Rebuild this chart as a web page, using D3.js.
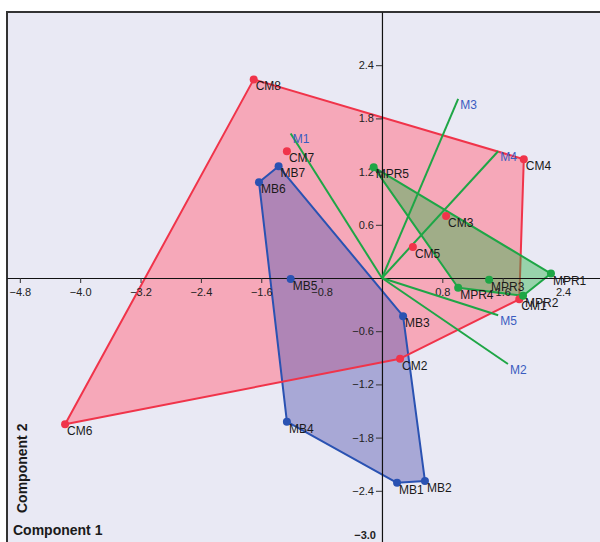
<!DOCTYPE html>
<html><head><meta charset="utf-8">
<script src="https://cdn.jsdelivr.net/npm/d3@7"></script>
<style>
html,body{margin:0;padding:0;background:#fff;}
svg{display:block;font-family:"Liberation Sans",Arial,sans-serif;}
</style></head>
<body>
<svg id="c" width="600" height="542"></svg>
<script>
// ---- data ----
const cmNames = ["CM1","CM2","CM3","CM4","CM5","CM6","CM7","CM8"];
const cmX = [1.82, 0.24, 0.85, 1.88, 0.41, -4.20, -1.26, -1.70];
const cmY = [-0.24, -0.91, 0.70, 1.34, 0.35, -1.65, 1.43, 2.24];

const mbNames = ["MB1","MB2","MB3","MB4","MB5","MB6","MB7"];
const mbX = [0.20, 0.57, 0.28, -1.26, -1.21, -1.63, -1.37];
const mbY = [-2.31, -2.29, -0.43, -1.62, -0.01, 1.08, 1.26];

const mprNames = ["MPR1","MPR2","MPR3","MPR4","MPR5"];
const mprX = [2.24, 1.87, 1.42, 1.01, -0.11];
const mprY = [0.05, -0.20, -0.02, -0.11, 1.25];

const loadNames = ["M1","M2","M3","M4","M5"];
const loadX = [-1.21, 1.67, 1.01, 1.54, 1.54];
const loadY = [1.63, -0.97, 2.02, 1.43, -0.42];

const xTicks = [-4.8,-4.0,-3.2,-2.4,-1.6,-0.8,0.8,1.6,2.4];
const yTicks = [2.4,1.8,1.2,0.6,-0.6,-1.2,-1.8,-2.4,-3.0];

const xTitle = "Component 1";
const yTitle = "Component 2";

// ---- drawing ----
const svg = d3.select("#c");
const W = 600, H = 542, L = 7, T = 12;
const x = d3.scaleLinear().domain([-4.97, 2.89]).range([L, W]);
const y = d3.scaleLinear().domain([-3, 3]).range([544, T]);

svg.append("rect").attr("x", L).attr("y", T).attr("width", W - L).attr("height", H - T)
  .attr("fill", "#e9e9f4");
svg.append("path").attr("d", `M${L},${H}V${T}H${W}`).attr("fill", "none")
  .attr("stroke", "#333").attr("stroke-width", 2);

const cm = {names: cmNames, xs: cmX, ys: cmY, stroke: "#f0344a", fill: "rgb(255,123,142)", op: 0.59};
const mb = {names: mbNames, xs: mbX, ys: mbY, stroke: "#2a52b2", fill: "rgb(92,92,179)", op: 0.46};
const mpr = {names: mprNames, xs: mprX, ys: mprY, stroke: "#1ea646", fill: "rgb(40,182,70)", op: 0.42};
const groups = [cm, mb, mpr];

function hullPath(g) {
  const pts = g.xs.map((v, i) => [x(v), y(g.ys[i])]);
  return "M" + d3.polygonHull(pts).join("L") + "Z";
}
const plot = svg.append("g");
function fillOf(g) {
  plot.append("path").attr("d", hullPath(g)).attr("fill", g.fill).attr("fill-opacity", g.op);
}
function strokeOf(g) {
  plot.append("path").attr("d", hullPath(g)).attr("fill", "none")
    .attr("stroke", g.stroke).attr("stroke-width", 2).attr("stroke-linejoin", "round");
}
fillOf(cm); fillOf(mb); strokeOf(mb); strokeOf(cm); fillOf(mpr); strokeOf(mpr);

// axes
const xAxis = d3.axisBottom(x).tickValues(xTicks).tickFormat(d3.format(".1f"))
  .tickSize(5).tickSizeOuter(0).tickPadding(5);
const gx = svg.append("g").attr("transform", `translate(0,${y(0)})`).call(xAxis);
const yAxis = d3.axisLeft(y).tickValues(yTicks).tickFormat(d3.format(".1f"))
  .tickSize(6).tickSizeOuter(0).tickPadding(2);
const gy = svg.append("g").attr("transform", `translate(${x(0)},0)`).call(yAxis);
[gx, gy].forEach(g => {
  g.select(".domain").attr("stroke", "#111").attr("stroke-width", 1.2);
  g.selectAll(".tick line").attr("stroke", "#333");
  g.selectAll("text").attr("font-size", 11).attr("fill", "#222")
    .attr("font-family", "'Liberation Sans',Arial,sans-serif");
});
gy.selectAll(".tick").filter(d => d === -3.0).each(function() {
  d3.select(this).select("line").remove();
  d3.select(this).select("text").attr("y", -9).attr("font-weight", "bold").attr("x", -6);
});

// loading lines
const lg = svg.append("g");
loadNames.forEach((n, i) => {
  lg.append("line").attr("x1", x(0)).attr("y1", y(0))
    .attr("x2", x(loadX[i])).attr("y2", y(loadY[i]))
    .attr("stroke", "#1ea646").attr("stroke-width", 2);
});
loadNames.forEach((n, i) => {
  lg.append("text").attr("x", x(loadX[i]) + 2).attr("y", y(loadY[i]) + 10)
    .attr("font-size", 12).attr("fill", "#3a5cc0").text(n);
});

// points + labels
groups.forEach(g => {
  const pg = svg.append("g");
  g.names.forEach((n, i) => {
    pg.append("circle").attr("cx", x(g.xs[i])).attr("cy", y(g.ys[i])).attr("r", 4)
      .attr("fill", g.stroke);
  });
  g.names.forEach((n, i) => {
    pg.append("text").attr("x", x(g.xs[i]) + 2).attr("y", y(g.ys[i]) + 11)
      .attr("font-size", 12).attr("fill", "#1a1a1a").text(n);
  });
});

// axis titles
svg.append("text").attr("x", 13).attr("y", 535).attr("font-size", 14)
  .attr("font-weight", "bold").attr("fill", "#1a1a1a").text(xTitle);
svg.append("text").attr("transform", "translate(27,513) rotate(-90)")
  .attr("font-size", 14).attr("font-weight", "bold").attr("fill", "#1a1a1a").text(yTitle);
</script>
</body></html>
